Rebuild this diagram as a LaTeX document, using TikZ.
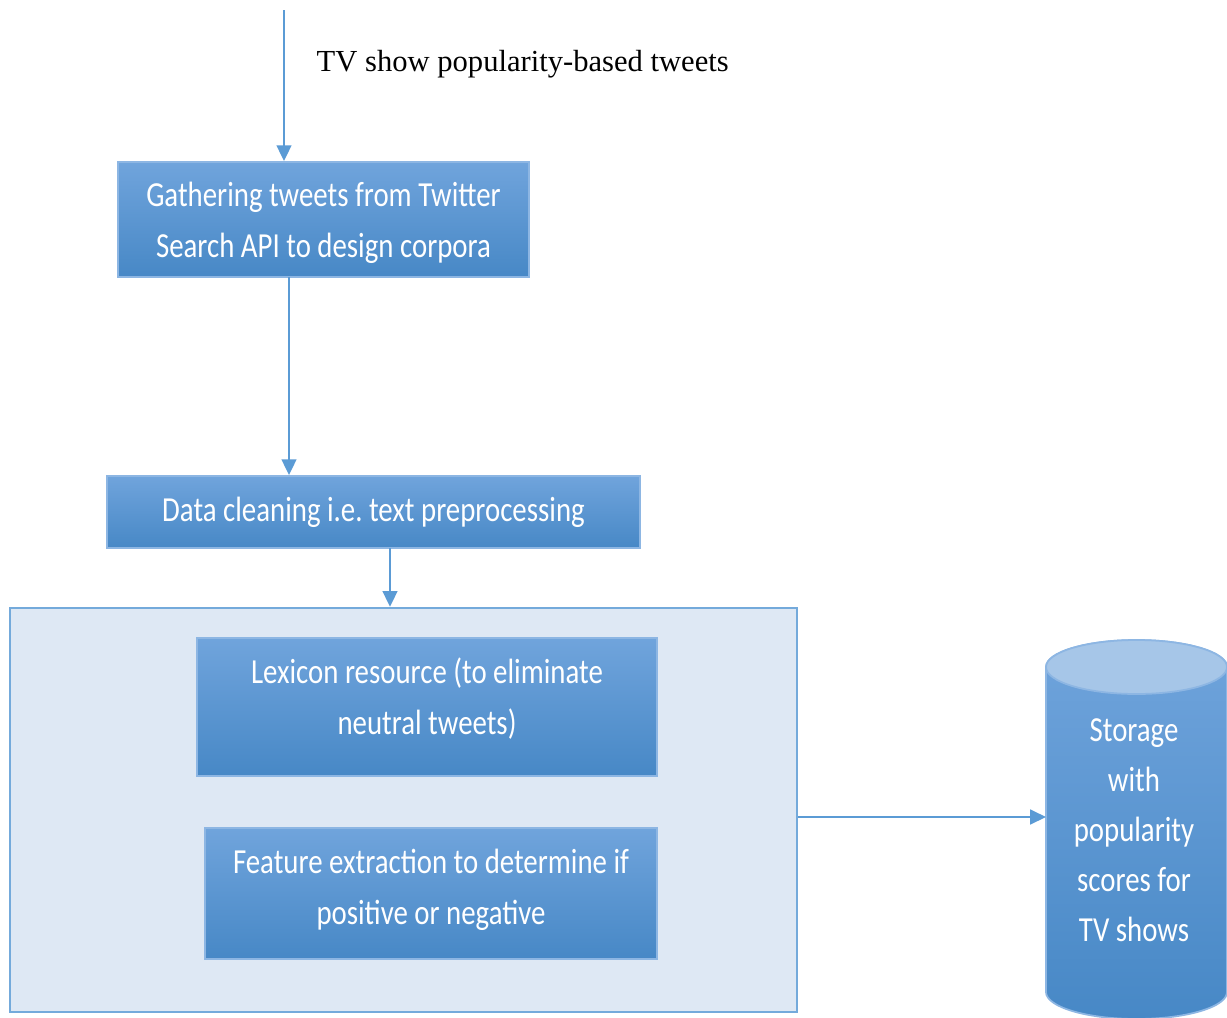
\documentclass[tikz,border=0pt]{standalone}
\usepackage{fontspec}
\setmainfont{Liberation Serif}
\newfontfamily\boxfont{Carlito}[FakeStretch=0.82]
\usetikzlibrary{arrows.meta}
\definecolor{lineblue}{HTML}{5B9BD5}
\definecolor{boxtop}{HTML}{70A4DC}
\definecolor{boxmid}{HTML}{5A9CDC}
\definecolor{boxbot}{HTML}{4788C6}
\definecolor{panelfill}{HTML}{DEE8F4}
\definecolor{capfill}{HTML}{A6C6E8}
\tikzset{
  flow/.style={draw=lineblue, line width=0.6pt, -{Triangle[width=4.2pt,length=4.5pt]}},
  procbox/.style={draw=boxtop!80!white, line width=0.5pt, top color=boxtop, middle color=boxmid, bottom color=boxbot,
    inner sep=0pt},
  boxtext/.style={text=white, align=center, inner sep=0pt, font=\boxfont\fontsize{10}{14.5}\selectfont},
  panel/.style={draw=lineblue!85, fill=panelfill, line width=0.6pt, inner sep=0pt}
}
\begin{document}
\begin{tikzpicture}[x=0.01cm, y=0.01cm]
  \useasboundingbox[fill=white] (0,0) rectangle (1227,-1018);

  % input label
  \node[anchor=west, inner sep=0pt, font=\fontsize{8.7}{11}\selectfont] (title) at (316,-64) {TV show popularity-based tweets};
  \coordinate (src) at (284,-10);

  % processing steps
  \node[procbox, minimum width=4.11cm, minimum height=1.15cm] (gather) at (323.5,-219.5) {};
  \node[boxtext] (gatherText) at (323.5,-222.5) {Gathering tweets from Twitter\\Search API to design corpora};
  \node[procbox, boxtext, minimum width=5.33cm, minimum height=0.72cm] (clean) at (373.5,-512)
    {Data cleaning i.e.\ text preprocessing};

  % analysis panel
  \node[panel, minimum width=7.87cm, minimum height=4.04cm] (panel) at (403.5,-810) {};
  \node[procbox, minimum width=4.60cm, minimum height=1.38cm] (lexicon) at (427,-707) {};
  \node[boxtext] (lexiconText) at (427,-699) {Lexicon resource (to eliminate\\neutral tweets)};
  \node[procbox, minimum width=4.52cm, minimum height=1.31cm] (feature) at (431,-893.5) {};
  \node[boxtext] (featureText) at (431,-890) {Feature extraction to determine if\\positive or negative};

  % storage cylinder
  \shade[top color=boxtop, middle color=boxmid, bottom color=boxbot, draw=boxtop!80!white, line width=0.5pt]
    (1046,-667) -- (1046,-992) arc[start angle=180, end angle=360, x radius=90.5, y radius=27]
    -- (1227,-667) arc[start angle=0, end angle=180, x radius=90.5, y radius=27] -- cycle;
  \draw[fill=capfill, draw=boxtop!80!white, line width=0.5pt] (1136.5,-667) ellipse [x radius=90.5, y radius=27];
  \node[boxtext, font=\boxfont\fontsize{10}{14.2}\selectfont] (store) at (1134,-830)
    {Storage\\with\\popularity\\scores for\\TV shows};
  \coordinate (storeW) at (1046,-817);

  % connectors
  \draw[flow] (src) -- (src |- gather.north);
  \draw[flow] (289,-277) coordinate (gout) -- (gout |- clean.north);
  \draw[flow] (390,-548) coordinate (cout) -- (cout |- panel.north);
  \draw[flow] (panel.east |- storeW) -- (storeW);
\end{tikzpicture}
\end{document}
